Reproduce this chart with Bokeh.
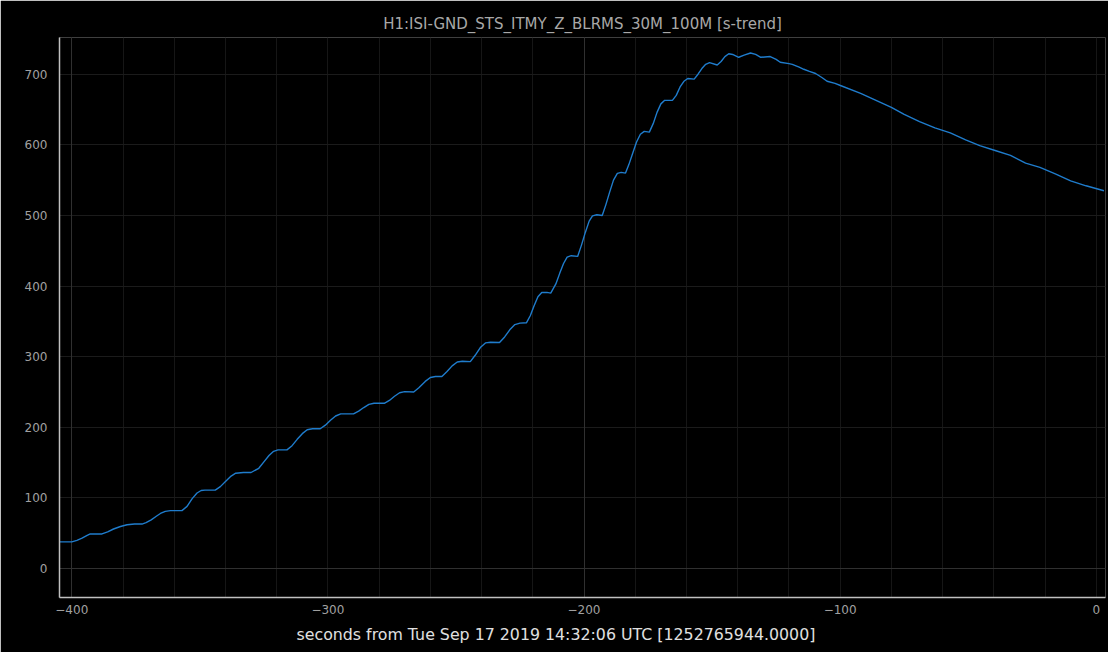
from bokeh.plotting import figure
from bokeh.models import Range1d, SingleIntervalTicker, FixedTicker, Grid, Title
from bokeh.embed import file_html
from bokeh.resources import INLINE

# ---- data ----
seconds = [-404.8, -400, -398, -396, -394, -392.8, -388.2,
           -386, -383.7, -381, -378.4, -375.5, -372.6,
           -371, -369, -367, -365.4, -363.5, -361.5, -357,
           -355, -353, -351.1, -349.5, -348, -344,
           -342, -339.8, -337.8, -336, -333, -330,
           -327, -325, -323, -321.2, -319.5, -316,
           -314, -312, -310, -308.1, -306, -303,
           -301, -299, -297, -295, -290,
           -288, -286, -284, -282, -278,
           -276, -274, -272, -270, -266.5,
           -264.5, -262, -260, -258, -255.5,
           -253.5, -251.5, -249.5, -247.5, -244.4,
           -242.5, -240.5, -238.5, -236.5, -233,
           -231, -229, -227, -225, -222.5,
           -221, -219.5, -218, -216.5, -214.5, -213,
           -211, -209.5, -208, -206.6, -205, -202.5,
           -201, -199.5, -198, -196.7, -195, -192.9,
           -191.5, -190, -188.5, -187, -185.5, -183.8,
           -182.5, -181, -179.5, -178, -176.5, -174.5,
           -173, -171.5, -170, -168.5, -165.5,
           -164, -162.5, -161, -159.5, -157,
           -155.5, -154, -152.5, -151, -148,
           -146.5, -145, -143.5, -142, -139.6,
           -137.5, -135, -133, -131, -127.3,
           -125, -123.4, -120, -118.7, -116, -114.2, -112, -109.6, -107, -105.1, -102, -99.9,
           -92, -86, -80, -75, -69, -63, -57, -51, -45.5, -39.5, -33.5, -27.6, -22, -16, -10, -4, 3]
blrms = [37.7, 37.7, 40, 43, 47, 49, 49,
         52, 56, 59.5, 62, 63, 63,
         65, 69, 74, 78, 81, 82, 82,
         88, 99, 107, 110.5, 111, 111,
         116, 124, 131, 135, 136, 136,
         142, 151, 160, 166, 168, 168,
         174, 183, 191, 196.5, 198, 198,
         203, 210, 216, 219, 219,
         223, 228, 232.5, 234, 234,
         238, 244, 249, 250.5, 250,
         256, 265, 270.5, 272, 272,
         279, 287, 292.5, 293.5, 293,
         302, 313, 319.5, 320.5, 320,
         328, 338, 345.5, 347.5, 348,
         358, 372, 385, 391, 391, 390,
         403, 418, 432, 441, 443, 442,
         458, 476, 492, 499.5, 501, 500,
         515, 533, 550, 559.5, 561, 560,
         572, 588, 604, 615, 619, 618,
         630, 646, 658, 663, 663,
         670, 682, 690, 694, 693,
         700, 708, 714, 716.5, 713,
         718, 725, 729, 728, 724,
         727, 730, 728, 724, 725,
         721, 717, 715, 714, 710, 707, 704, 701, 695, 690, 687, 684,
         673, 663, 653, 643, 633, 624, 617, 607, 599, 592, 585, 574, 568, 559, 549, 542, 535]
x_ticks = [-400, -300, -200, -100, 0]
y_ticks = [0, 100, 200, 300, 400, 500, 600, 700]
x_major_grid = [-400, -200]
y_major_grid = [0]

title_text = "H1:ISI-GND_STS_ITMY_Z_BLRMS_30M_100M [s-trend]"
xlabel_text = "seconds from Tue Sep 17 2019 14:32:06 UTC [1252765944.0000]"

FONT = "DejaVu Sans"

p = figure(width=1108, height=652, output_backend="svg", toolbar_location=None,
           x_range=Range1d(-404.8, 3.6), y_range=Range1d(-41, 752),
           min_border_left=59, min_border_right=3, min_border_top=37, min_border_bottom=55)

p.background_fill_color = "#000000"
p.border_fill_color = "#000000"
p.outline_line_color = None

p.title.text = title_text
p.title.align = "center"
p.title.text_font = FONT
p.title.text_font_size = "15px"
p.title.text_font_style = "normal"
p.title.text_color = "#a8a8a8"
p.title.standoff = 10

# axes
for ax in (p.xaxis[0], p.yaxis[0]):
    ax.axis_line_color = "#c0c0c0"
    ax.axis_line_width = 1.5
    ax.major_tick_line_color = None
    ax.minor_tick_line_color = None
    ax.major_label_text_font = FONT
    ax.major_label_text_font_size = "12px"
    ax.major_label_text_color = "#a0a0a0"
p.xaxis[0].ticker = FixedTicker(ticks=x_ticks)
p.yaxis[0].ticker = FixedTicker(ticks=y_ticks)
p.xaxis[0].major_label_standoff = 1
p.yaxis[0].major_label_standoff = 6

# grids
p.xgrid[0].ticker = SingleIntervalTicker(interval=20)
p.xgrid[0].grid_line_color = "#161616"
p.ygrid[0].ticker = SingleIntervalTicker(interval=100)
p.ygrid[0].grid_line_color = "#1b1b1b"
p.add_layout(Grid(dimension=0, ticker=FixedTicker(ticks=x_major_grid), grid_line_color="#303030"))
p.add_layout(Grid(dimension=1, ticker=FixedTicker(ticks=y_major_grid), grid_line_color="#303030"))

p.line(seconds, blrms, line_color="#1f7ccc", line_width=1.4)

p.add_layout(Title(text=xlabel_text, align="left", offset=237, text_font=FONT,
                   text_font_size="15.8px", text_font_style="normal", text_color="#e0e0e0",
                   standoff=13), "below")

open("out.html", "w").write(file_html(p, INLINE))
